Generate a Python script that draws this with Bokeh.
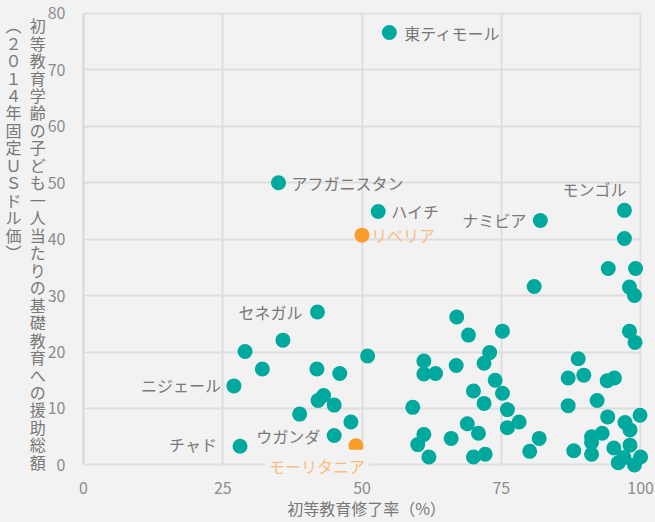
from bokeh.plotting import figure
from bokeh.models import (Range1d, FixedTicker, Label, LinearAxis, BoxAnnotation,
                          GlobalInlineStyleSheet)
from bokeh.embed import file_html
from bokeh.resources import INLINE

# ---------------- data ----------------
x_ticks = [0, 25, 50, 75, 100]
y_ticks = [0, 10, 20, 30, 40, 50, 60, 70, 80]

x_title = "初等教育修了率（%）"
y_title_main = "初等教育学齢の子ども一人当たりの基礎教育への援助総額"
y_title_sub = "︵２０１４年固定ＵＳドル価︶"

# labelled countries: completion rate (%), aid per child (US$)
labeled_names = ["東ティモール", "アフガニスタン", "ハイチ", "リベリア", "ナミビア", "モンゴル",
                 "セネガル", "ニジェール", "チャド", "ウガンダ", "モーリタニア"]
labeled_x = [54.9, 35.0, 52.9, 50.0, 82.0, 97.1, 42.0, 27.0, 28.1, 45.0, 48.9]
labeled_y = [76.6, 50.0, 44.9, 40.7, 43.3, 45.1, 27.1, 14.0, 3.3, 5.2, 3.4]
highlighted = ["リベリア", "モーリタニア"]

# other (unlabelled) countries
other_x = [97.1, 94.2, 99.1, 80.9, 98.0, 98.9, 67.0, 69.1, 75.2, 98.0,
           99.0, 72.9, 71.9, 61.1, 61.1, 63.2, 66.9, 88.8, 87.0, 89.8,
           94.0, 95.3, 73.9, 75.2, 70.0, 71.9, 59.1, 76.1, 87.0, 92.2,
           99.9, 94.1, 97.2, 98.1, 78.2, 76.1, 68.9, 70.9, 61.1, 60.0,
           66.0, 62.0, 70.0, 72.1, 81.8, 80.1, 88.0, 91.2, 91.2, 93.1,
           91.2, 95.2, 98.1, 100.0, 97.0, 96.0, 98.9,
           35.8, 29.0, 51.0, 32.1, 41.9, 46.0, 43.1, 42.1, 45.0, 38.8, 48.0]
other_y = [40.1, 34.8, 34.8, 31.6, 31.5, 30.0, 26.2, 23.0, 23.7, 23.7,
           21.7, 19.9, 18.0, 18.4, 16.1, 16.2, 17.6, 18.8, 15.4, 15.9,
           14.9, 15.4, 15.0, 12.7, 13.1, 10.9, 10.2, 9.8, 10.5, 11.4,
           8.8, 8.5, 7.5, 6.2, 7.6, 6.6, 7.3, 5.6, 5.4, 3.6,
           4.7, 1.4, 1.4, 1.9, 4.7, 2.4, 2.5, 5.0, 4.0, 5.6,
           1.9, 3.0, 3.5, 1.4, 1.3, 0.4, 0.0,
           22.1, 20.1, 19.3, 17.0, 17.0, 16.2, 12.3, 11.4, 10.6, 9.0, 7.6]

# ---------------- styles ----------------
BG = "#f2f2f2"
TEAL = "#00a99d"
ORANGE = "#f99d2a"
ORANGE_TXT = "#f9bd7e"
GRID = "#dedede"
AXIS = "#d6d6d6"
LABEL_COL = "#787878"
TICK_COL = "#8c8c8c"
FONT = "Noto Sans CJK JP"
LINE_H = 0.728

# label placement (align, x offset px, y offset px) per labelled country
label_layout = {
    "東ティモール": ("left", 15, 0),
    "アフガニスタン": ("left", 13, 0),
    "ハイチ": ("left", 13, 0),
    "リベリア": ("left", 9, 0),
    "ナミビア": ("right", -14, 0),
    "モンゴル": ("right", 2, 21),
    "セネガル": ("right", -15, 0),
    "ニジェール": ("right", -13, 1),
    "チャド": ("right", -23, 2),
    "ウガンダ": ("right", -14, 0),
    "モーリタニア": ("center", -39, -20),
}

# ranges padded slightly beyond the axes so marks on the edges are not clipped
p = figure(width=655, height=522, output_backend="svg", toolbar_location=None,
           x_range=Range1d(0, 101.6), y_range=Range1d(-1.7, 80.15),
           min_border_left=83, min_border_right=6, min_border_top=12, min_border_bottom=46,
           background_fill_color=BG, border_fill_color=BG)
p.stylesheets = [GlobalInlineStyleSheet(css="html, body { background: #f2f2f2; }")]
p.outline_line_color = None

xa = p.xaxis[0]
ya = p.yaxis[0]
for ax in (xa, ya):
    ax.major_tick_line_color = None
    ax.minor_tick_line_color = None
    ax.major_label_text_font = FONT
    ax.major_label_text_font_size = "16px"
    ax.major_label_text_color = TICK_COL
    ax.axis_label_text_font = FONT
    ax.axis_label_text_font_size = "16px"
    ax.axis_label_text_font_style = "normal"
    ax.axis_label_text_color = LABEL_COL

xa.ticker = FixedTicker(ticks=x_ticks)
xa.axis_line_color = None
xa.major_label_standoff = 1
xa.axis_label = x_title
xa.axis_label_standoff = -1

ya.ticker = FixedTicker(ticks=y_ticks)
ya.axis_line_color = AXIS
ya.axis_line_width = 2
ya.bounds = (0, 80)
ya.major_label_standoff = 12
ya.axis_label = "\n".join(y_title_main)
ya.axis_label_standoff = -1
ya.axis_label_text_line_height = LINE_H

sub_lines = list(y_title_sub) + ["　"] * (len(y_title_main) - len(y_title_sub))
ya2 = LinearAxis(ticker=FixedTicker(ticks=[]), axis_line_color=None,
                 major_tick_line_color=None, minor_tick_line_color=None,
                 major_label_standoff=0, axis_label="\n".join(sub_lines),
                 axis_label_standoff=5, axis_label_text_font=FONT,
                 axis_label_text_font_size="16px", axis_label_text_font_style="normal",
                 axis_label_text_color=LABEL_COL, axis_label_text_line_height=LINE_H)
for ax in (ya, ya2):
    if "axis_label_orientation" in ax.properties():
        ax.axis_label_orientation = "horizontal"
p.add_layout(ya2, "left")

p.xgrid.ticker = FixedTicker(ticks=x_ticks)
p.ygrid.ticker = FixedTicker(ticks=y_ticks)
p.grid.grid_line_color = GRID
p.grid.grid_line_width = 2

# masks that trim the grid to the 0-100 / 0-80 box
p.add_layout(BoxAnnotation(top=-0.2, fill_color=BG, fill_alpha=1, line_color=None, level="underlay"))
p.add_layout(BoxAnnotation(left=100.2, fill_color=BG, fill_alpha=1, line_color=None, level="underlay"))

# points
teal_x = other_x + [x for n, x in zip(labeled_names, labeled_x) if n not in highlighted]
teal_y = other_y + [y for n, y in zip(labeled_names, labeled_y) if n not in highlighted]
hi_x = [x for n, x in zip(labeled_names, labeled_x) if n in highlighted]
hi_y = [y for n, y in zip(labeled_names, labeled_y) if n in highlighted]

p.scatter(teal_x, teal_y, size=15, fill_color=TEAL, line_color=None)
p.scatter(hi_x, hi_y, size=15, fill_color=ORANGE, line_color=None)

# country labels
for n, x, y in zip(labeled_names, labeled_x, labeled_y):
    align, dx, dy = label_layout[n]
    hl = n in highlighted
    kw = {}
    if n == "モーリタニア":
        kw = dict(background_fill_color=BG, padding=4)
    lab = Label(x=x, y=y, text=n, x_offset=dx, y_offset=dy,
                text_align=align, text_baseline="middle",
                text_font=FONT, text_font_size="16px",
                text_color=ORANGE_TXT if hl else LABEL_COL, **kw)
    p.add_layout(lab)

open("out.html", "w").write(file_html(p, INLINE))
